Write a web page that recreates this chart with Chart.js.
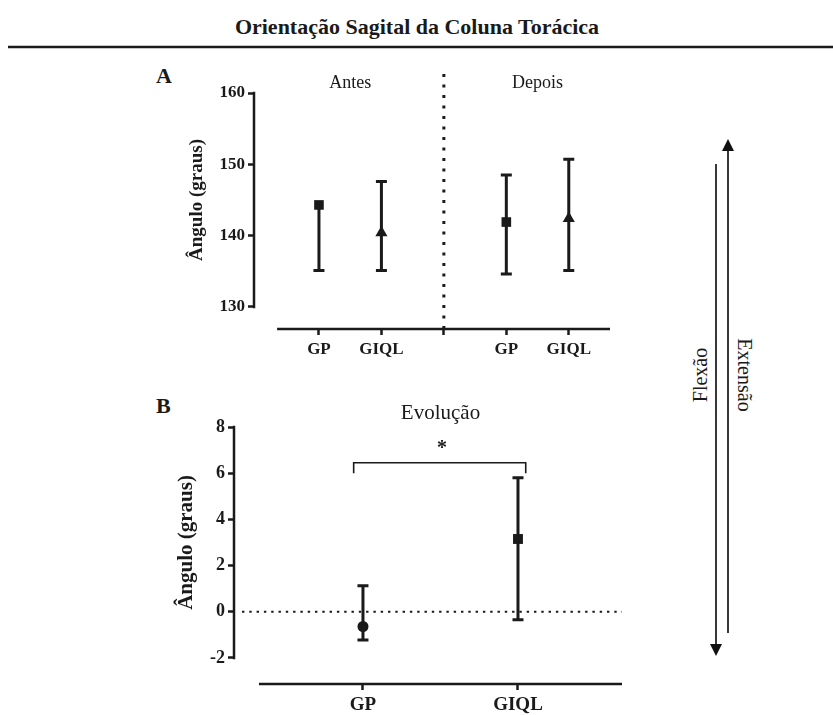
<!DOCTYPE html>
<html>
<head>
<meta charset="utf-8">
<script src="https://cdn.jsdelivr.net/npm/chart.js@4.4.0/dist/chart.umd.min.js"></script>
<style>
  body { margin: 0; background: #fff; }
  #wrap { position: relative; width: 833px; height: 715px; }
  #wrap svg, #wrap canvas { position: absolute; left: 0; }
  svg text { font-family: 'Liberation Serif', 'Times New Roman', serif; fill: #1a1a1a; }
</style>
</head>
<body>
<div id="wrap">
  <svg width="833" height="715" style="top:0">
    <text x="417" y="34" text-anchor="middle" font-size="22" font-weight="bold">Orientação Sagital da Coluna Torácica</text>
    <line x1="8" y1="47" x2="833" y2="47" stroke="#1a1a1a" stroke-width="2.5"/>
    <text x="156" y="83" font-size="22" font-weight="bold">A</text>
    <text x="156" y="413" font-size="22" font-weight="bold">B</text>
    <!-- extension arrow (up) and flexion arrow (down) -->
    <line x1="728" y1="148" x2="728" y2="633" stroke="#222" stroke-width="1.8"/>
    <polygon points="728,139 722,151 734,151" fill="#111"/>
    <line x1="716" y1="164" x2="716" y2="646" stroke="#222" stroke-width="1.8"/>
    <polygon points="716,656 710,644 722,644" fill="#111"/>
    <text transform="translate(700,375) rotate(-90)" text-anchor="middle" dominant-baseline="central" font-size="20">Flexão</text>
    <text transform="translate(745,375) rotate(90)" text-anchor="middle" dominant-baseline="central" font-size="20">Extensão</text>
  </svg>
  <canvas id="chartA" width="833" height="372" style="top:0"></canvas>
  <canvas id="chartB" width="833" height="343" style="top:372px"></canvas>
</div>
<script>
// panel A: before / after, mean with error bars
var periods = ['Antes', 'Depois'];
var groupsA = ['GP', 'GIQL', '', 'GP', 'GIQL'];
var ticksA = [130, 140, 150, 160];
var gpMeanA = [144.3, 141.9];
var gpLowA = [135.1, 134.6];
var gpHighA = [144.3, 148.5];
var giqlMeanA = [140.4, 142.4];
var giqlLowA = [135.1, 135.1];
var giqlHighA = [147.6, 150.7];

// panel B: change between the two moments
var groupsB = ['GP', 'GIQL'];
var ticksB = [-2, 0, 2, 4, 6, 8];
var evolMean = [-0.64, 3.15];
var evolLow = [-1.22, -0.35];
var evolHigh = [1.12, 5.8];

var ink = '#1a1a1a';
var serif = 'Liberation Serif';

function points(mean, low, high, xs) {
  return mean.map(function(m, i) {
    return { x: xs[i], y: m, lo: low[i], hi: high[i] };
  });
}

// whiskers + caps, drawn under the markers (no cap when it sits inside the marker)
var errorBars = {
  id: 'errorBars',
  beforeDatasetsDraw: function(chart, args, opts) {
    var ctx = chart.ctx, y = chart.scales.y;
    ctx.save();
    ctx.strokeStyle = ink;
    ctx.lineWidth = opts.width || 3;
    chart.data.datasets.forEach(function(ds, di) {
      chart.getDatasetMeta(di).data.forEach(function(pt, i) {
        var d = ds.data[i];
        var top = y.getPixelForValue(d.hi), bot = y.getPixelForValue(d.lo);
        var c = opts.cap || 5.5;
        ctx.beginPath();
        ctx.moveTo(pt.x, top); ctx.lineTo(pt.x, bot);
        if (d.hi > d.y) { ctx.moveTo(pt.x - c, top); ctx.lineTo(pt.x + c, top); }
        if (d.lo < d.y) { ctx.moveTo(pt.x - c, bot); ctx.lineTo(pt.x + c, bot); }
        ctx.stroke();
      });
    });
    ctx.restore();
  }
};

// offset axis lines, y title and the header text above each panel
var frame = {
  id: 'frame',
  beforeDatasetsDraw: function(chart, args, opts) {
    var ctx = chart.ctx, area = chart.chartArea;
    var x = chart.scales.x, y = chart.scales.y;
    var yTop = y.getPixelForValue(opts.yRange[1]);
    var yBot = y.getPixelForValue(opts.yRange[0]);
    ctx.save();
    ctx.strokeStyle = ink;
    ctx.lineWidth = 2.5;
    ctx.beginPath();
    ctx.moveTo(area.left, yTop - 1.25);
    ctx.lineTo(area.left, yBot + 1.25);
    ctx.moveTo(x.getPixelForValue(opts.xFrom), area.bottom);
    ctx.lineTo(area.right, area.bottom);
    ctx.stroke();

    ctx.fillStyle = ink;
    ctx.font = 'bold ' + opts.titleSize + 'px "' + serif + '"';
    ctx.textAlign = 'center';
    ctx.textBaseline = 'middle';
    ctx.translate(opts.titleX, (yTop + yBot) / 2);
    ctx.rotate(-Math.PI / 2);
    ctx.fillText('Ângulo (graus)', 0, 0);
    ctx.restore();

    ctx.save();
    ctx.fillStyle = ink;
    ctx.font = opts.headerSize + 'px "' + serif + '"';
    ctx.textAlign = 'center';
    ctx.textBaseline = 'middle';
    opts.headers.forEach(function(h) {
      ctx.fillText(h.text, x.getPixelForValue(h.at), area.top - opts.headerGap);
    });
    ctx.restore();
  }
};

function axisOptions(tickList, size) {
  return {
    afterBuildTicks: function(s) {
      s.ticks = tickList.map(function(v) { return { value: v }; });
    },
    border: { display: false },
    grid: { drawOnChartArea: false, drawTicks: true, tickLength: 6, tickColor: ink, tickWidth: 2.5 },
    ticks: { color: ink, font: { family: serif, size: size, weight: 'bold' }, autoSkip: false, maxRotation: 0 }
  };
}

// ---- panel A ----
var yA = axisOptions(ticksA, 17);
yA.min = 126.9; yA.max = 160;
yA.ticks.padding = 3;
yA.afterFit = function(s) { s.width = 254; };

var xA = axisOptions([0, 1, 2, 3, 4], 17);
xA.type = 'linear';
xA.min = -1.04; xA.max = 4.66;
xA.ticks.padding = 4;
xA.ticks.callback = function(v, i) { return groupsA[i]; };
xA.afterFit = function(s) { s.height = 43; };

var divider = {
  id: 'divider',
  beforeDatasetsDraw: function(chart) {
    var ctx = chart.ctx, x = chart.scales.x.getPixelForValue(2);
    ctx.save();
    ctx.strokeStyle = ink;
    ctx.lineWidth = 3;
    ctx.setLineDash([3, 7.5]);
    ctx.beginPath();
    ctx.moveTo(x, 74);
    ctx.lineTo(x, chart.chartArea.bottom);
    ctx.stroke();
    ctx.restore();
  }
};

new Chart(document.getElementById('chartA'), {
  type: 'scatter',
  data: {
    datasets: [
      {
        label: 'GP',
        data: points(gpMeanA, gpLowA, gpHighA, [0, 3]),
        pointStyle: 'rect', pointRadius: 6.8,
        backgroundColor: ink, borderColor: ink, borderWidth: 0
      },
      {
        label: 'GIQL',
        data: points(giqlMeanA, giqlLowA, giqlHighA, [1, 4]),
        pointStyle: 'triangle', pointRadius: 7,
        backgroundColor: ink, borderColor: ink, borderWidth: 0
      }
    ]
  },
  options: {
    responsive: false,
    animation: false,
    layout: { padding: { top: 93, right: 223, left: 0, bottom: 0 } },
    plugins: {
      legend: { display: false },
      tooltip: { enabled: false },
      errorBars: { width: 3, cap: 5.5 },
      frame: {
        yRange: [ticksA[0], ticksA[ticksA.length - 1]],
        xFrom: -0.67,
        titleX: 197, titleSize: 19,
        headers: [{ text: periods[0], at: 0.5 }, { text: periods[1], at: 3.5 }],
        headerSize: 18, headerGap: 10
      }
    },
    scales: { x: xA, y: yA }
  },
  plugins: [frame, divider, errorBars]
});

// ---- panel B ----
var yB = axisOptions(ticksB, 18);
yB.min = -3.13; yB.max = 8;
yB.ticks.padding = 3;
yB.afterFit = function(s) { s.width = 234; };

var xB = axisOptions([0, 1], 19);
xB.type = 'linear';
xB.min = -0.832; xB.max = 1.671;
xB.ticks.padding = 4;
xB.ticks.callback = function(v, i) { return groupsB[i]; };
xB.afterFit = function(s) { s.height = 31; };

// dotted zero line and the significance bracket
var marks = {
  id: 'marks',
  beforeDatasetsDraw: function(chart) {
    var ctx = chart.ctx, x = chart.scales.x, y = chart.scales.y;
    var y0 = y.getPixelForValue(0);
    ctx.save();
    ctx.strokeStyle = ink;
    ctx.lineWidth = 2.2;
    ctx.setLineDash([2.4, 4.9]);
    ctx.beginPath();
    ctx.moveTo(chart.chartArea.left + 8, y0);
    ctx.lineTo(chart.chartArea.right, y0);
    ctx.stroke();

    ctx.setLineDash([]);
    ctx.lineWidth = 1.6;
    var bl = x.getPixelForValue(-0.06), br = x.getPixelForValue(1.05);
    var bt = y.getPixelForValue(6.45), bb = y.getPixelForValue(6.0);
    ctx.beginPath();
    ctx.moveTo(bl, bb); ctx.lineTo(bl, bt); ctx.lineTo(br, bt); ctx.lineTo(br, bb);
    ctx.stroke();

    ctx.fillStyle = ink;
    ctx.font = 'bold 20px "' + serif + '"';
    ctx.textAlign = 'center';
    ctx.textBaseline = 'middle';
    ctx.fillText('*', x.getPixelForValue(0.51), y.getPixelForValue(7.05));
    ctx.restore();
  }
};

new Chart(document.getElementById('chartB'), {
  type: 'scatter',
  data: {
    datasets: [
      {
        label: 'Evolução',
        data: points(evolMean, evolLow, evolHigh, [0, 1]),
        pointStyle: ['circle', 'rect'], pointRadius: [5.5, 7],
        backgroundColor: ink, borderColor: ink, borderWidth: 0
      }
    ]
  },
  options: {
    responsive: false,
    animation: false,
    layout: { padding: { top: 55, right: 211, left: 0, bottom: 0 } },
    plugins: {
      legend: { display: false },
      tooltip: { enabled: false },
      errorBars: { width: 3, cap: 5.5 },
      frame: {
        yRange: [ticksB[0], ticksB[ticksB.length - 1]],
        xFrom: -0.671,
        titleX: 187, titleSize: 21,
        headers: [{ text: 'Evolução', at: 0.5 }],
        headerSize: 21, headerGap: 14
      }
    },
    scales: { x: xB, y: yB }
  },
  plugins: [frame, marks, errorBars]
});
</script>
</body>
</html>
